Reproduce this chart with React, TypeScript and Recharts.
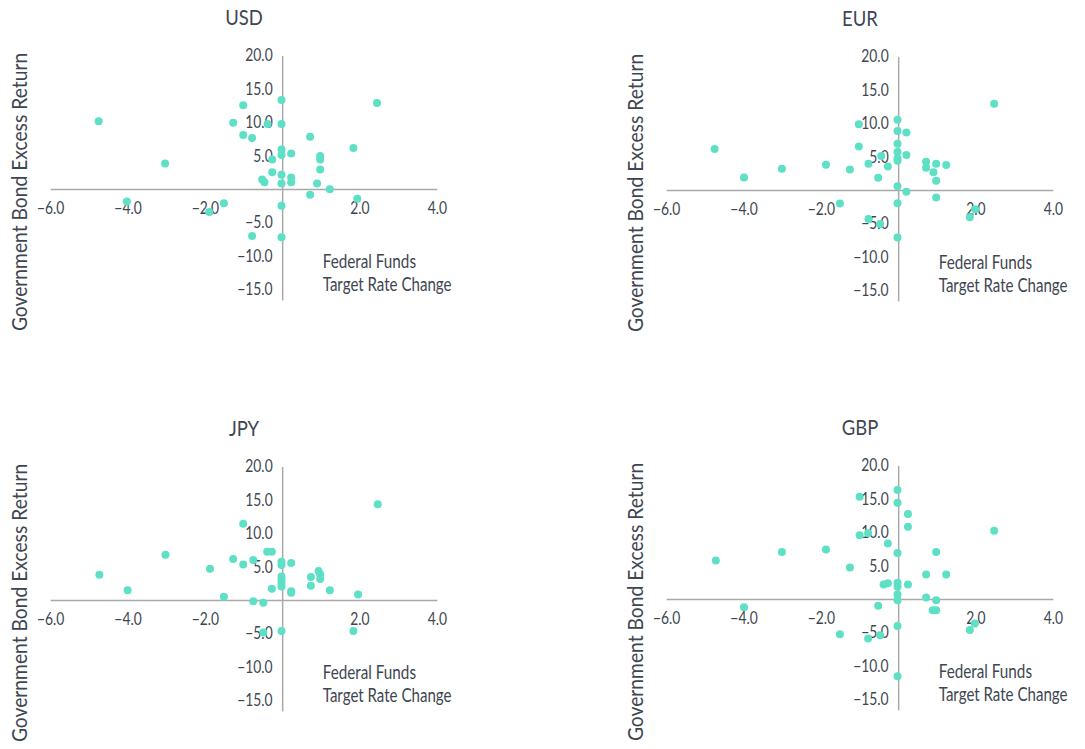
import React from 'react';
import { ScatterChart, Scatter, XAxis, YAxis, ReferenceLine, ReferenceDot } from 'recharts';

const xTicks = [-6, -4, -2, 2, 4];
const yTicks = [20, 15, 10, 5, -5, -10, -15];
const xDomain: [number, number] = [-6, 4];
const yDomain: [number, number] = [-15, 20];
const yAxisTitle = 'Government Bond Excess Return';
const xAxisTitleLines = ['Federal Funds', 'Target Rate Change'];
const titles = ['USD', 'EUR', 'JPY', 'GBP'];

const usdRate = [-4.76, -4.03, -3.04, -1.9, -1.52, -1.28, -1.02, -1.02, -0.79, -0.79, -0.53, -0.47, -0.39, -0.27, -0.27, -0.03, -0.03, -0.03, -0.03, -0.03, -0.03, -0.03, -0.03, 0.22, 0.22, 0.22, 0.71, 0.71, 0.89, 0.97, 0.97, 0.97, 1.22, 1.83, 1.93, 2.44];
const usdReturn = [10.2, -1.8, 3.9, -3.35, -2.05, 10.0, 12.6, 8.15, 7.7, -6.95, 1.5, 1.1, 9.8, 4.5, 2.6, 13.4, 9.8, 6.0, 5.15, 2.2, 0.9, -2.45, -7.15, 5.4, 1.8, 1.1, 7.9, -0.8, 0.9, 5.0, 4.5, 3.0, 0.05, 6.2, -1.4, 12.95];

const eurRate = [-4.76, -4.0, -3.02, -1.88, -1.52, -1.26, -1.03, -1.03, -0.78, -0.78, -0.53, -0.48, -0.45, -0.28, -0.03, -0.03, -0.03, -0.03, -0.03, -0.03, -0.03, -0.03, -0.03, 0.2, 0.2, 0.2, 0.71, 0.71, 0.9, 0.97, 0.97, 0.97, 1.23, 1.84, 1.98, 2.47];
const eurReturn = [6.2, 1.95, 3.25, 3.85, -1.95, 3.15, 9.9, 6.6, 4.0, -4.25, 1.9, -5.0, 5.15, 3.6, 10.6, 8.9, 7.0, 5.75, 4.8, 4.45, 0.65, -1.9, -7.05, 8.7, 5.3, -0.2, 4.3, 3.4, 2.75, 4.0, 1.45, -1.05, 3.8, -4.0, -2.8, 13.0];

const jpyRate = [-4.74, -4.01, -3.03, -1.88, -1.52, -1.28, -1.02, -1.02, -0.76, -0.76, -0.5, -0.5, -0.4, -0.28, -0.28, -0.03, -0.03, -0.03, -0.03, -0.03, -0.03, -0.03, 0.22, 0.22, 0.22, 0.73, 0.73, 0.93, 0.97, 0.97, 1.22, 1.83, 1.95, 2.46];
const jpyReturn = [3.85, 1.55, 6.85, 4.75, 0.55, 6.2, 11.5, 5.4, 6.05, -0.1, -0.35, -4.8, 7.3, 7.3, 1.75, 5.8, 5.3, 3.6, 3.1, 2.6, 2.1, -4.55, 5.6, 1.4, 1.15, 3.5, 2.2, 4.4, 3.9, 3.2, 1.55, -4.55, 0.9, 14.4];

const gbpRate = [-4.73, -4.0, -3.02, -1.88, -1.52, -1.26, -1.01, -1.01, -0.79, -0.79, -0.53, -0.48, -0.39, -0.28, -0.28, -0.03, -0.03, -0.03, -0.03, -0.03, -0.03, -0.03, -0.03, -0.03, 0.24, 0.24, 0.24, 0.71, 0.71, 0.88, 0.97, 0.97, 0.97, 1.23, 1.84, 1.97, 2.47];
const gbpReturn = [5.85, -1.15, 7.1, 7.5, -5.2, 4.8, 15.4, 9.6, 9.9, -5.85, -0.95, -5.35, 2.25, 2.45, 8.4, 16.4, 14.5, 6.95, 2.5, 1.9, 0.75, -0.1, -3.95, -11.5, 12.8, 10.9, 2.25, 3.75, 0.3, -1.6, -1.6, 7.1, -0.1, 3.75, -4.55, -3.6, 10.3];

const seriesRates = [usdRate, eurRate, jpyRate, gbpRate];
const seriesReturns = [usdReturn, eurReturn, jpyReturn, gbpReturn];

const TEXT = '#3e4651';
const AXIS = '#a9a9a9';
const DOT = '#5ee0c6';
const FONT = "Lato, 'Open Sans', sans-serif";

const fmt = (v: number) => v.toFixed(1).replace('-', '\u2212');

const CHART_W = 465;
const CHART_H = 400;
const MARGIN = { top: 55.9, left: 50.7, right: 27.7, bottom: 110.3 };

const offsets = [
  { left: 0, top: 0 },
  { left: 615.6, top: 0.8 },
  { left: 0, top: 410.6 },
  { left: 615.6, top: 409.8 },
];

const xTickShape = (label: string) => (p: any) => {
  if (p.cx == null) return <g />;
  return (
    <text
      transform={`translate(${p.cx},${p.cy + 24}) scale(0.84,1)`}
      textAnchor="middle"
      fontSize={16.5}
      fontFamily={FONT}
      fill={TEXT}
    >
      {label}
    </text>
  );
};

const yTickShape = (label: string) => (p: any) => {
  if (p.cx == null) return <g />;
  return (
    <text
      transform={`translate(${p.cx - 10},${p.cy + 5.5}) scale(0.84,1)`}
      textAnchor="end"
      fontSize={16.5}
      fontFamily={FONT}
      fill={TEXT}
    >
      {label}
    </text>
  );
};

const dotShape = (p: any) => <circle cx={p.cx} cy={p.cy} r={4} fill={DOT} />;

function Panel({ idx }: { idx: number }) {
  const rate = seriesRates[idx];
  const ret = seriesReturns[idx];
  const data = rate.map((x, i) => ({ x, y: ret[i] }));
  const off = offsets[idx];
  return (
    <div style={{ position: 'absolute', left: off.left, top: off.top, width: CHART_W, height: CHART_H }}>
      <svg width={CHART_W} height={CHART_H} style={{ position: 'absolute', left: 0, top: 0 }}>
        <text
          transform="translate(244,24.5) scale(0.9,1)"
          textAnchor="middle"
          fontSize={20.5}
          fontFamily={FONT}
          fill={TEXT}
        >
          {titles[idx]}
        </text>
        <text
          transform="translate(26.5,192) rotate(-90) scale(0.94,1)"
          textAnchor="middle"
          fontSize={20.5}
          fontFamily={FONT}
          fill={TEXT}
        >
          {yAxisTitle}
        </text>
        <text transform="translate(322.7,267.5) scale(0.825,1)" fontSize={18.5} fontFamily={FONT} fill={TEXT}>
          {xAxisTitleLines[0]}
        </text>
        <text transform="translate(322.7,291) scale(0.815,1)" fontSize={18.5} fontFamily={FONT} fill={TEXT}>
          {xAxisTitleLines[1]}
        </text>
      </svg>
      <div style={{ position: 'absolute', left: 0, top: 0 }}>
        <ScatterChart width={CHART_W} height={CHART_H} margin={MARGIN}>
          <XAxis type="number" dataKey="x" domain={xDomain} hide allowDataOverflow />
          <YAxis type="number" dataKey="y" domain={yDomain} hide allowDataOverflow />
          <ReferenceLine y={0} stroke={AXIS} strokeWidth={1.5} />
          <ReferenceLine
            segment={[{ x: 0, y: -16.6 }, { x: 0, y: 20 }]}
            stroke={AXIS}
            strokeWidth={1.5}
            ifOverflow="visible"
          />
          {xTicks.map((t) => (
            <ReferenceDot key={'x' + t} x={t} y={0} r={0} shape={xTickShape(fmt(t))} />
          ))}
          {yTicks.map((t) => (
            <ReferenceDot key={'y' + t} x={0} y={t} r={0} shape={yTickShape(fmt(t))} />
          ))}
          <Scatter data={data} isAnimationActive={false} shape={dotShape} />
        </ScatterChart>
      </div>
    </div>
  );
}

export default function App() {
  return (
    <div style={{ position: 'absolute', left: 0, top: 0, width: 1085, height: 749, background: '#ffffff', overflow: 'hidden' }}>
      {[0, 1, 2, 3].map((i) => (
        <Panel key={i} idx={i} />
      ))}
    </div>
  );
}
